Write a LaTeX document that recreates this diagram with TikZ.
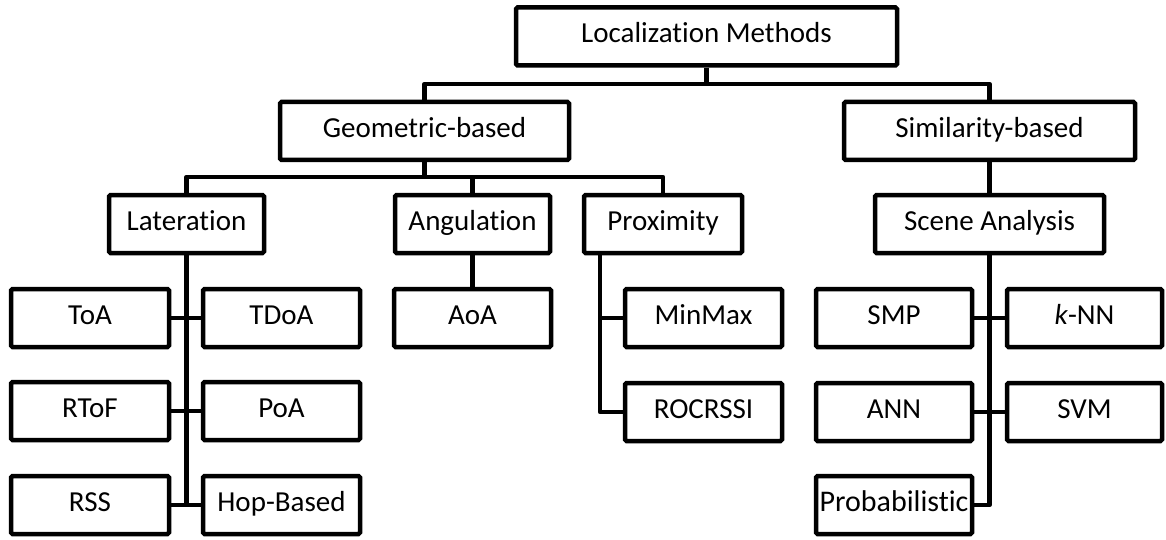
\documentclass[tikz,border=0pt]{standalone}
\usepackage{fontspec}
\setmainfont{Carlito}[Ligatures=NoCommon]
\begin{document}
\begin{tikzpicture}[x=1pt,y=-1pt,
  box/.style={draw, line width=4.5pt, rounded corners=1.5pt, inner sep=0pt,
    minimum height=58pt, text height=19pt, text depth=6pt,
    font=\fontsize{29}{33}\selectfont},
  link/.style={line width=4.5pt, line join=round}]
\useasboundingbox (0,0) rectangle (1166,540);

% levels 0 and 1
\node[box, minimum width=381pt] (loc)   at (706.5,36.5) {Localization Methods};
\node[box, minimum width=289pt] (geo)   at (424.5,131)  {Geometric-based};
\node[box, minimum width=291pt] (sim)   at (989.5,131)  {Similarity-based};

% level 2
\node[box, minimum width=155pt] (lat)   at (186.5,224)  {Lateration};
\node[box, minimum width=155pt] (ang)   at (472.5,224)  {Angulation};
\node[box, minimum width=158pt] (prox)  at (663,224)    {Proximity};
\node[box, minimum width=229pt] (scene) at (989.5,224)  {Scene Analysis};

% lateration techniques
\node[box, minimum width=158pt] (toa)  at (90,318)    {ToA};
\node[box, minimum width=157pt] (tdoa) at (281.5,318) {TDoA};
\node[box, minimum width=158pt] (rtof) at (90,411)    {RToF};
\node[box, minimum width=157pt] (poa)  at (281.5,411) {PoA};
\node[box, minimum width=158pt] (rss)  at (90,505)    {RSS};
\node[box, minimum width=157pt] (hop)  at (281.5,505) {Hop-Based};

% angulation and proximity techniques
\node[box, minimum width=157pt] (aoa)     at (472.5,318) {AoA};
\node[box, minimum width=157pt] (minmax)  at (703.5,318) {MinMax};
\node[box, minimum width=157pt] (rocrssi) at (703.5,412) {ROCRSSI};

% scene analysis techniques
\node[box, minimum width=156pt] (smp)  at (894,318)    {SMP};
\node[box, minimum width=155pt] (knn)  at (1084.5,318) {\textit{k}-NN};
\node[box, minimum width=156pt] (ann)  at (894,412)    {ANN};
\node[box, minimum width=155pt] (svm)  at (1084.5,412) {SVM};
\node[box, minimum width=156pt, font=\fontsize{30}{34}\selectfont] (prob) at (894,505) {Probabilistic};

% bus levels
\coordinate (topbus) at (0,84);
\coordinate (geobus) at (0,177);
\coordinate (proxv)  at (600,0);

% root to the two families
\draw[link] (loc.south) -- (loc.south |- topbus);
\draw[link] (geo.north) |- (sim.north |- topbus) -- (sim.north);

% geometric-based branches
\draw[link] (geo.south) -- (geo.south |- geobus);
\draw[link] (lat.north) |- (prox.north |- geobus) -- (prox.north);
\draw[link] (ang.north) -- (ang.north |- geobus);

% similarity-based branch
\draw[link] (sim.south) -- (scene.north);

% lateration tree
\draw[link] (lat.south) -- (lat.south |- rss.east);
\draw[link] (toa.east) -- (tdoa.west);
\draw[link] (rtof.east) -- (poa.west);
\draw[link] (rss.east) -- (hop.west);

% angulation
\draw[link] (ang.south) -- (aoa.north);

% proximity
\draw[link] (prox.south -| proxv) |- (rocrssi.west);
\draw[link] (proxv |- minmax.west) -- (minmax.west);

% scene analysis tree
\draw[link] (scene.south) |- (prob.east);
\draw[link] (smp.east) -- (knn.west);
\draw[link] (ann.east) -- (svm.west);
\end{tikzpicture}
\end{document}
